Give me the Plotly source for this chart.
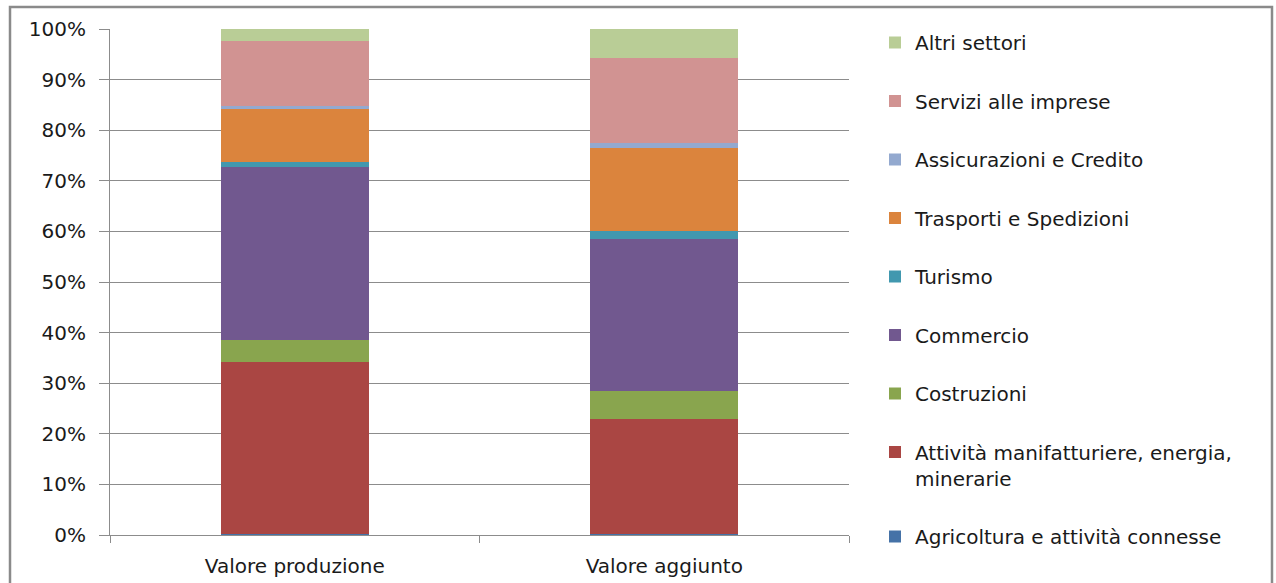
import plotly.graph_objects as go

categories = ["Valore produzione", "Valore aggiunto"]
sectors = [
    "Agricoltura e attività connesse",
    "Attività manifatturiere, energia,<br>minerarie",
    "Costruzioni",
    "Commercio",
    "Turismo",
    "Trasporti e Spedizioni",
    "Assicurazioni e Credito",
    "Servizi alle imprese",
    "Altri settori",
]
agricoltura = [0.1, 0.1]
manifattura = [34.1, 22.9]
costruzioni = [4.3, 5.5]
commercio = [34.3, 30.0]
turismo = [0.9, 1.6]
trasporti = [10.5, 16.4]
assicurazioni = [0.6, 1.0]
servizi = [12.9, 16.8]
altri = [2.3, 5.7]
colors = ["#4572A7", "#AA4643", "#89A54E", "#71588F", "#4198AF",
          "#DB843D", "#93A9CF", "#D19392", "#B9CD96"]
tick_vals = [0, 10, 20, 30, 40, 50, 60, 70, 80, 90, 100]
tick_text = ["0%", "10%", "20%", "30%", "40%", "50%", "60%", "70%", "80%", "90%", "100%"]

series = [agricoltura, manifattura, costruzioni, commercio, turismo,
          trasporti, assicurazioni, servizi, altri]

FONT = "DejaVu Sans"
FS = 20
fig = go.Figure()
n = len(sectors)
for i, (name, vals, col) in enumerate(zip(sectors, series, colors)):
    fig.add_trace(go.Bar(x=categories, y=vals, name=name, marker_color=col,
                         marker_line_width=0, legendgroup=name,
                         legendrank=n - i))

W, H = 1276, 583
L, R, T, B = 110, 849, 29, 535
pw, ph = R - L, B - T

def px(x):
    return (x - L) / pw

def py(y):
    return (B - y) / ph

fig.add_shape(type="rect", xref="paper", yref="paper",
              x0=px(10), x1=px(1272), y0=py(600), y1=py(7),
              line=dict(color="#8a8a8a", width=2.5), fillcolor="rgba(0,0,0,0)",
              layer="below")

fig.update_layout(
    width=W, height=H,
    margin=dict(l=L, r=W - R, t=T, b=H - B, pad=0, autoexpand=False),
    barmode="stack", bargap=0.6,
    paper_bgcolor="white", plot_bgcolor="white",
    font=dict(family=FONT, size=FS, color="#1a1a1a"),
    legend=dict(x=px(875), y=py(23), xanchor="left", yanchor="top",
                traceorder="grouped", tracegroupgap=29.5,
                font=dict(family=FONT, size=FS, color="#1a1a1a"),
                valign="top", itemwidth=30, maxheight=H),
    xaxis=dict(showline=True, linecolor="#8c8c8c", linewidth=1,
               ticks="outside", tickson="boundaries", ticklen=7,
               tickcolor="#8c8c8c", showgrid=False, ticklabelstandoff=13,
               automargin=False),
    yaxis=dict(range=[0, 100], tickvals=tick_vals, ticktext=tick_text,
               showgrid=True, gridcolor="#8c8c8c", gridwidth=1,
               showline=True, linecolor="#8c8c8c", linewidth=1,
               ticks="outside", ticklen=10, tickcolor="#8c8c8c",
               ticklabelstandoff=9, zeroline=False, automargin=False),
)
fig.write_html("out.html", config={"displayModeBar": False},
               post_script="document.body.style.margin='0';document.body.style.overflow='hidden';")
